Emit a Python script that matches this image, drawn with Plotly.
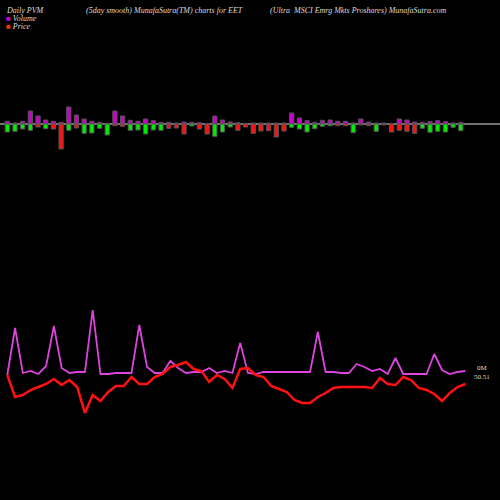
import plotly.graph_objects as go

# volume bars: upper part (magenta) and lower part (green = up day, red = down day), in px units
vol_up = [2.7, 1, 2.7, 13, 8, 4, 2.7, 1.7, 17, 9, 5, 2.7, 1.7, 0.3, 13, 8, 3.7, 2.7, 5, 3.3, 1.7, 1.7, 1, 2, 1.7, 1.3, 0.3, 8, 4, 2, 1.3, 0.7,
          1, 1, 1, 1, 1, 11, 6, 3.3, 1.7, 3.7, 4, 2.7, 2.7, 1, 5, 2, 1, 1, 0.3, 5, 4, 2, 1.7, 2.3, 3.3, 2.3, 1, 1.7]
vol_dn = [8, 7.3, 5, 6.3, 3, 4.7, 5, 25, 6.3, 4, 9.3, 9, 4.3, 11, 1.7, 2.3, 6.3, 6, 10, 6, 6.3, 4.3, 4, 10, 2, 5, 10, 12.3, 8, 3, 6.3, 3,
          9.3, 7, 6.7, 13, 7, 3.3, 5, 8, 4.7, 2.3, 1.7, 1.7, 1.7, 8.7, 1, 1.7, 7.3, 1, 8, 6.3, 7.3, 9.3, 4.3, 8.3, 7.3, 8, 3.3, 6.7]
day_up = [1, 1, 1, 1, 0, 1, 0, 0, 1, 0, 1, 1, 1, 1, 0, 0, 1, 1, 1, 1, 1, 0, 0, 0, 1, 0, 0, 1, 1, 1, 0, 0,
          0, 0, 0, 0, 0, 1, 1, 1, 1, 1, 1, 0, 0, 1, 0, 0, 1, 0, 0, 0, 0, 0, 1, 1, 1, 1, 1, 1]

# smoothed lines (chart units, higher = up)
volume = [125, 172, 127, 129, 126, 134, 174, 132, 127, 128, 128, 190, 126, 126, 127, 127, 127, 175, 133, 127,
          127, 139, 132, 127, 128, 128, 132, 127, 129, 127, 157, 127, 126, 128, 128, 128, 128, 128, 128, 128,
          168, 128, 128, 127, 127, 136, 133, 129, 131, 126, 142, 126, 126, 126, 126, 146, 130, 126, 128, 129]
price = [125, 103, 105, 110, 113, 116, 121, 115, 120, 113, 87, 105, 99, 108, 114, 114, 123, 116, 116, 123,
         126, 133, 135, 138, 131, 129, 118, 125, 121, 112, 131, 132, 125, 123, 114, 111, 108, 100, 97, 97,
         103, 107, 112, 113, 113, 113, 113, 112, 122, 116, 115, 123, 120, 112, 110, 106, 99, 107, 113, 116]

x = list(range(len(vol_up)))
lx = [i * 1.01 for i in x]  # lines stretch slightly further right than bars
fig = go.Figure()
fig.add_bar(x=x, y=vol_up, marker=dict(color="#cc00cc", line=dict(color="#555", width=1)), width=0.55, yaxis="y")
fig.add_bar(x=x, y=[-v for v in vol_dn], marker=dict(color=["#00ee00" if u else "#ff1111" for u in day_up],
            line=dict(color="#555", width=1)), width=0.55, yaxis="y")
fig.add_scatter(x=lx, y=volume, mode="lines", line=dict(color="#dd44dd", width=1.8), yaxis="y2")
fig.add_scatter(x=lx, y=price, mode="lines", line=dict(color="#ff1111", width=2.5), yaxis="y2")

fig.add_shape(type="line", xref="paper", x0=0, x1=1, yref="y", y0=0, y1=0, line=dict(color="#999", width=1.5), layer="below")

f = dict(family="Liberation Serif", size=8, color="#dddddd")
notes = [("<i>Daily PVM</i>", 4, 496), ("<i>(5day smooth) MunafaSutra(TM) charts for EET</i>", 84, 496),
         ("<i>(Ultra  MSCI Emrg Mkts Proshares) MunafaSutra.com</i>", 268, 496),
         ("<span style='color:#cc00cc'>■</span> <i>Volume</i>", 4, 488),
         ("<span style='color:#ee3300'>■</span> <i>Price</i>", 4, 480)]
for t, ax, ay in notes:
    fig.add_annotation(text=t, x=ax, y=ay, xref="x3", yref="y3", showarrow=False, font=f, xanchor="left", yanchor="top")
fig.add_annotation(text="0M<br>50.51", x=472, y=128, xref="x3", yref="y3", showarrow=False,
                   font=dict(family="Liberation Serif", size=7, color="#dddddd"), xanchor="left", yanchor="middle")

fig.update_layout(
    width=500, height=500, margin=dict(l=0, r=0, t=0, b=0),
    paper_bgcolor="black", plot_bgcolor="black", showlegend=False, barmode="relative",
    xaxis=dict(range=[-0.95, 64.1], visible=False),
    yaxis=dict(range=[-376, 124], visible=False),
    yaxis2=dict(range=[0, 500], overlaying="y", visible=False),
    xaxis3=dict(range=[0, 500], visible=False, overlaying="x"),
    yaxis3=dict(range=[0, 500], visible=False, overlaying="y"),
)
fig.write_html("out.html", config={"displayModeBar": False},
               post_script="document.body.style.margin='0';document.body.style.background='black';")
